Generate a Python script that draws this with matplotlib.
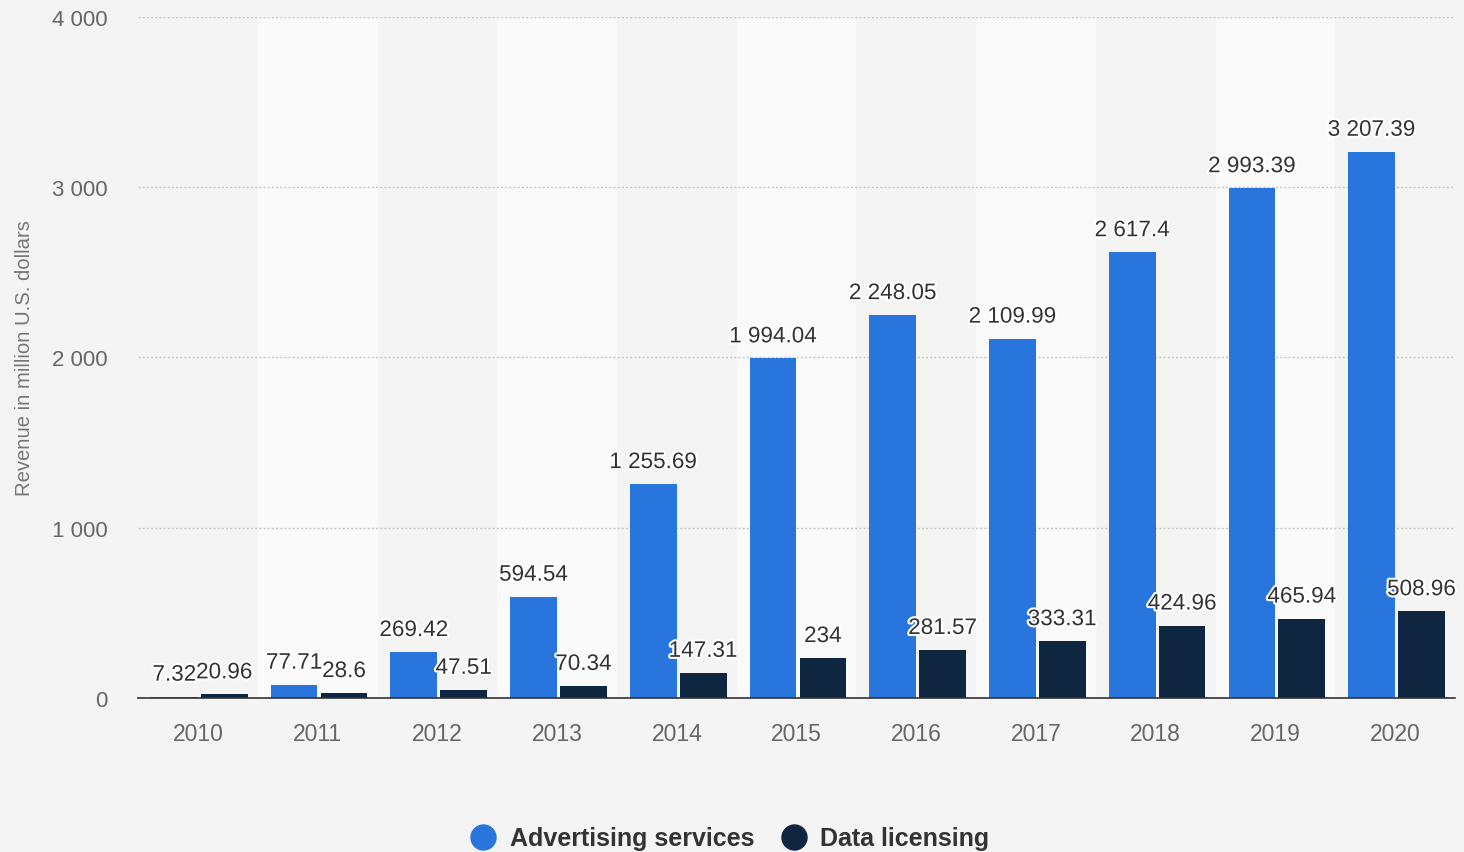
import matplotlib
matplotlib.use("Agg")
import matplotlib.pyplot as plt
import matplotlib.patheffects as pe
from matplotlib.lines import Line2D
import numpy as np

plt.rcParams['font.family'] = ['Liberation Sans', 'DejaVu Sans']

years = ['2010', '2011', '2012', '2013', '2014', '2015', '2016', '2017', '2018', '2019', '2020']
advertising = [7.32, 77.71, 269.42, 594.54, 1255.69, 1994.04, 2248.05, 2109.99, 2617.4, 2993.39, 3207.39]
licensing = [20.96, 28.6, 47.51, 70.34, 147.31, 234, 281.57, 333.31, 424.96, 465.94, 508.96]
series_names = ['Advertising services', 'Data licensing']
yticks = [0, 1000, 2000, 3000, 4000]

c_adv = '#2876dd'
c_lic = '#0f2640'
bg = '#f4f4f4'
band = '#fafafa'

def fmt(v):
    s = f"{v:,.2f}".rstrip('0').rstrip('.')
    return s.replace(',', ' ')

fig = plt.figure(figsize=(14.64, 8.53), dpi=100, facecolor=bg)
ax = fig.add_axes([0.0943, 0.1805, 0.8996, 0.7985])
ax.set_facecolor(bg)

x = np.arange(len(years))
for i in x:
    if i % 2 == 1:
        ax.axvspan(i - 0.5, i + 0.5, color=band, zorder=0, lw=0)

w = 0.39
b1 = ax.bar(x - 0.197, advertising, width=w, color=c_adv, zorder=3)
b2 = ax.bar(x + 0.22, licensing, width=w, color=c_lic, zorder=3)

stroke = [pe.withStroke(linewidth=3, foreground='white')]
for bars, vals in ((b1, advertising), (b2, licensing)):
    for r, v in zip(bars, vals):
        ax.annotate(fmt(v), (r.get_x() + r.get_width() / 2, r.get_height()),
                    xytext=(0, 8), textcoords='offset points', ha='center', va='bottom',
                    fontsize=16.2, color='#333333', path_effects=stroke, zorder=5)

ax.set_xlim(-0.5, len(years) - 0.5)
ax.set_ylim(0, 4000)
ax.set_yticks(yticks)
ax.set_yticklabels([fmt(t) for t in yticks])
ax.set_xticks(x)
ax.set_xticklabels(years)
ax.tick_params(axis='both', length=0, labelsize=16.5, labelcolor='#666666')
ax.tick_params(axis='y', labelsize=16, pad=22)
ax.tick_params(axis='x', pad=17.5)
ax.yaxis.grid(True, linestyle=(0, (1.5, 1.5)), color='#c8c8c8', lw=1, zorder=1)
ax.set_axisbelow(True)
for s in ['top', 'right', 'left']:
    ax.spines[s].set_visible(False)
ax.spines['bottom'].set_color('#333333')
ax.spines['bottom'].set_linewidth(1.2)
ax.spines['bottom'].set_zorder(6)

fig.text(0.0165, 0.58, 'Revenue in million U.S. dollars', rotation=90, ha='center', va='center',
         fontsize=14.6, color='#777777')

handles = [Line2D([], [], marker='o', ls='', markersize=18, color=c_adv),
           Line2D([], [], marker='o', ls='', markersize=18, color=c_lic)]
leg = fig.legend(handles, series_names, loc='center', bbox_to_anchor=(0.4945, 0.016),
                 ncol=2, frameon=False, handletextpad=0.05, columnspacing=0.6,
                 prop={'weight': 'bold', 'size': 18})
for t in leg.get_texts():
    t.set_color('#333333')

fig.savefig('out.png', dpi=100, facecolor=bg)
